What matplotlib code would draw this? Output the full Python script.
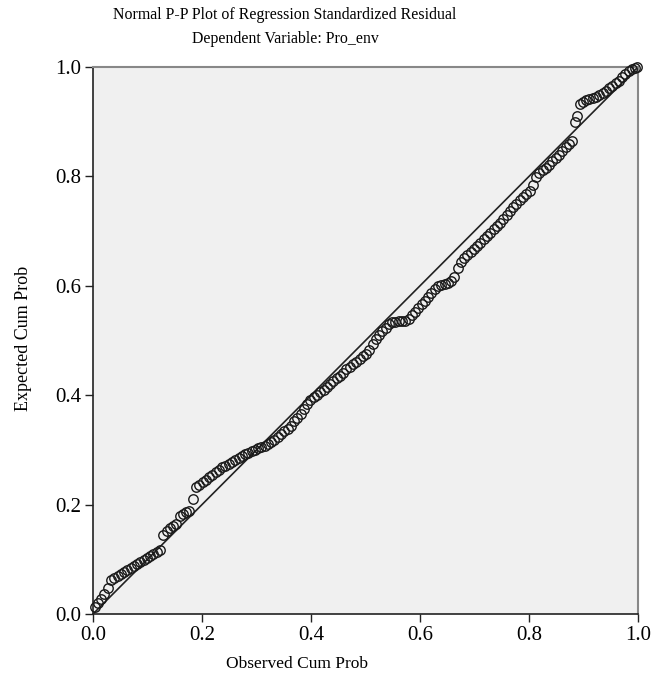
import matplotlib
matplotlib.use("Agg")
import matplotlib.pyplot as plt

title_lines = ["Normal P-P Plot of Regression Standardized Residual",
               "Dependent Variable: Pro_env"]
x_label = "Observed Cum Prob"
y_label = "Expected Cum Prob"
tick_values = [0.0, 0.2, 0.4, 0.6, 0.8, 1.0]
tick_labels = ["0.0", "0.2", "0.4", "0.6", "0.8", "1.0"]

observed = [
    0.003, 0.009, 0.015, 0.021, 0.027, 0.033, 0.039, 0.045, 0.051, 0.057,
    0.063, 0.069, 0.075, 0.081, 0.087, 0.093, 0.099, 0.105, 0.111, 0.117,
    0.123, 0.129, 0.135, 0.141, 0.147, 0.153, 0.159, 0.165, 0.171, 0.177,
    0.183, 0.189, 0.195, 0.201, 0.207, 0.213, 0.219, 0.225, 0.231, 0.237,
    0.243, 0.249, 0.255, 0.261, 0.267, 0.273, 0.279, 0.285, 0.291, 0.297,
    0.303, 0.309, 0.315, 0.321, 0.327, 0.333, 0.339, 0.345, 0.351, 0.357,
    0.363, 0.369, 0.375, 0.381, 0.387, 0.393, 0.399, 0.405, 0.411, 0.417,
    0.423, 0.429, 0.435, 0.441, 0.447, 0.453, 0.459, 0.465, 0.471, 0.477,
    0.483, 0.489, 0.495, 0.501, 0.507, 0.513, 0.519, 0.525, 0.531, 0.537,
    0.543, 0.549, 0.555, 0.561, 0.567, 0.573, 0.579, 0.585, 0.591, 0.597,
    0.603, 0.609, 0.615, 0.621, 0.627, 0.633, 0.639, 0.645, 0.651, 0.657,
    0.663, 0.669, 0.675, 0.681, 0.687, 0.693, 0.699, 0.705, 0.711, 0.717,
    0.723, 0.729, 0.735, 0.741, 0.747, 0.753, 0.759, 0.765, 0.771, 0.777,
    0.783, 0.789, 0.795, 0.801, 0.807, 0.813, 0.819, 0.825, 0.831, 0.837,
    0.843, 0.849, 0.855, 0.861, 0.867, 0.873, 0.879, 0.884, 0.888, 0.893,
    0.899, 0.905, 0.911, 0.917, 0.923, 0.929, 0.935, 0.941, 0.947, 0.953,
    0.959, 0.965, 0.971, 0.977, 0.983, 0.989, 0.995, 0.999,
]
expected = [
    0.012, 0.020, 0.028, 0.037, 0.047, 0.063, 0.066, 0.070, 0.073, 0.077,
    0.080, 0.084, 0.087, 0.091, 0.095, 0.098, 0.102, 0.106, 0.110, 0.113,
    0.117, 0.145, 0.151, 0.157, 0.161, 0.165, 0.179, 0.182, 0.186, 0.189,
    0.210, 0.232, 0.236, 0.241, 0.245, 0.250, 0.254, 0.259, 0.263, 0.268,
    0.271, 0.275, 0.278, 0.281, 0.285, 0.288, 0.292, 0.295, 0.298, 0.300,
    0.303, 0.306, 0.308, 0.311, 0.315, 0.319, 0.324, 0.329, 0.334, 0.339,
    0.344, 0.352, 0.359, 0.366, 0.375, 0.384, 0.392, 0.396, 0.401, 0.406,
    0.410, 0.415, 0.420, 0.426, 0.431, 0.436, 0.441, 0.447, 0.452, 0.457,
    0.461, 0.466, 0.471, 0.475, 0.483, 0.493, 0.503, 0.510, 0.517, 0.523,
    0.530, 0.533, 0.534, 0.535, 0.536, 0.536, 0.540, 0.546, 0.553, 0.559,
    0.566, 0.573, 0.580, 0.587, 0.594, 0.599, 0.601, 0.604, 0.606, 0.609,
    0.617, 0.632, 0.644, 0.651, 0.657, 0.662, 0.668, 0.673, 0.679, 0.685,
    0.691, 0.697, 0.703, 0.709, 0.715, 0.722, 0.730, 0.737, 0.744, 0.750,
    0.756, 0.762, 0.768, 0.774, 0.785, 0.798, 0.807, 0.811, 0.816, 0.821,
    0.828, 0.834, 0.840, 0.846, 0.853, 0.859, 0.865, 0.899, 0.910, 0.932,
    0.936, 0.939, 0.941, 0.944, 0.946, 0.949, 0.952, 0.957, 0.961, 0.965,
    0.970, 0.975, 0.981, 0.987, 0.993, 0.996, 0.999, 1.000,
]
reference_line = [0.0, 1.0]

W, H = 654, 678
fig = plt.figure(figsize=(W / 100, H / 100), dpi=100)
fig.patch.set_facecolor("white")
plt.rcParams["font.family"] = ["Liberation Serif", "DejaVu Serif"]

ax = fig.add_axes([93 / W, (H - 614) / H, (638 - 93) / W, (614 - 67) / H])
ax.set_facecolor("#f0f0f0")
ax.plot(reference_line, reference_line, color="#222222", lw=1.2, zorder=2)
ax.plot(observed, expected, linestyle="none", marker="o", markersize=6.8,
        markerfacecolor="none", markeredgecolor="#1a1a1a",
        markeredgewidth=1.0, zorder=3, clip_on=False)
ax.set_xlim(0, 1)
ax.set_ylim(0, 1)
ax.set_xticks(tick_values)
ax.set_yticks(tick_values)
ax.set_xticklabels(tick_labels, fontsize=15)
ax.set_yticklabels(tick_labels, fontsize=15)
ax.tick_params(direction="out", length=6, width=1.0, color="#222222", pad=2.5)
for s in ["left", "bottom"]:
    ax.spines[s].set_color("#222222")
    ax.spines[s].set_linewidth(1.2)
for s in ["top", "right"]:
    ax.spines[s].set_color("#888888")
    ax.spines[s].set_linewidth(1.5)

fig.text(285 / W, 1 - 15 / H, title_lines[0], ha="center", va="center", fontsize=11.4)
fig.text(285 / W, 1 - 39 / H, title_lines[1], ha="center", va="center", fontsize=11.4)
fig.text(297 / W, 1 - 664 / H, x_label, ha="center", va="center", fontsize=12.5)
fig.text(24 / W, 1 - 338 / H, y_label, ha="center", va="center", rotation=90, fontsize=13)

fig.savefig("out.png", dpi=100)
